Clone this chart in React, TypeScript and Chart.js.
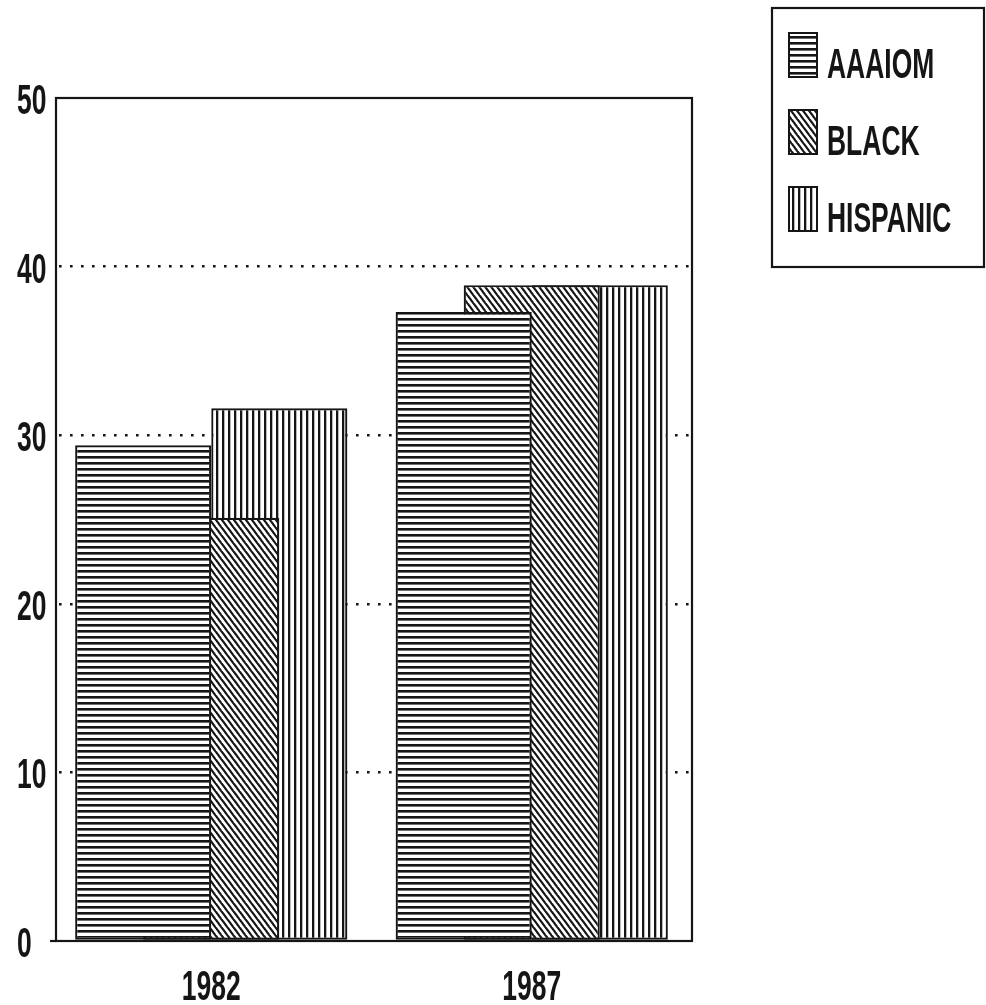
import React, { useEffect, useRef } from "react";
import { Chart, registerables } from "chart.js";

Chart.register(...registerables);

const categories = ["1982", "1987"];
const seriesNames = ["AAAIOM", "BLACK", "HISPANIC"];
const aaaiomValues = [29.4, 37.3];
const blackValues = [25.1, 38.9];
const hispanicValues = [31.6, 38.9];
const yTickValues = [0, 10, 20, 30, 40, 50];

const INK = "#151515";
const FONT = "bold 42px 'Liberation Sans', Arial, sans-serif";
const SQUEEZE = 0.63;
const FRAME_LEFT = 56;

function makePattern(kind: "h" | "d" | "v"): CanvasPattern | string {
  const c = document.createElement("canvas");
  const w = 6;
  const h = kind === "d" ? 8 : 6;
  c.width = w;
  c.height = h;
  const g = c.getContext("2d");
  if (!g) return "#fff";
  g.fillStyle = "#ffffff";
  g.fillRect(0, 0, w, h);
  g.fillStyle = INK;
  g.strokeStyle = INK;
  if (kind === "h") {
    g.fillRect(0, 0, w, 2.6);
  } else if (kind === "v") {
    g.fillRect(0, 0, 2.3, h);
  } else {
    g.lineWidth = 2.2;
    for (const dx of [-w, 0, w]) {
      g.beginPath();
      g.moveTo(dx - 3, -4);
      g.lineTo(dx + w + 3, h + 4);
      g.stroke();
    }
  }
  const p = g.createPattern(c, "repeat");
  return p || "#fff";
}

function squeezedText(
  ctx: CanvasRenderingContext2D,
  text: string,
  x: number,
  y: number,
  align: "left" | "center"
) {
  ctx.save();
  ctx.font = FONT;
  ctx.fillStyle = INK;
  ctx.textBaseline = "alphabetic";
  ctx.textAlign = align;
  ctx.translate(x, y);
  ctx.scale(SQUEEZE, 1);
  ctx.fillText(text, 0, 0);
  ctx.restore();
}

export default function App() {
  const ref = useRef<HTMLCanvasElement | null>(null);

  useEffect(() => {
    const canvas = ref.current;
    if (!canvas) return;
    const patterns = [makePattern("h"), makePattern("d"), makePattern("v")];
    const values = [aaaiomValues, blackValues, hispanicValues];

    const decor = {
      id: "decor",
      beforeDraw(chart: any) {
        const ctx = chart.ctx;
        ctx.save();
        ctx.fillStyle = "#ffffff";
        ctx.fillRect(0, 0, chart.width, chart.height);
        ctx.restore();
      },
      afterDraw(chart: any) {
        const ctx: CanvasRenderingContext2D = chart.ctx;
        const a = chart.chartArea;
        ctx.save();
        ctx.strokeStyle = INK;
        ctx.lineWidth = 2.2;
        ctx.strokeRect(FRAME_LEFT, a.top, a.right - FRAME_LEFT, a.bottom - a.top);
        ctx.beginPath();
        ctx.moveTo(50, a.bottom);
        ctx.lineTo(FRAME_LEFT, a.bottom);
        ctx.stroke();
        ctx.restore();

        const ys = chart.scales.y;
        yTickValues.forEach((v) => {
          squeezedText(ctx, String(v), 17, ys.getPixelForValue(v) + 16, "left");
        });
        const xs = chart.scales.x;
        categories.forEach((c, i) => {
          squeezedText(ctx, c, xs.getPixelForValue(i), 1000, "center");
        });

        // legend
        ctx.save();
        ctx.strokeStyle = INK;
        ctx.lineWidth = 2.2;
        ctx.strokeRect(772, 8, 212, 259);
        ctx.restore();
        chart.data.datasets.forEach((ds: any, i: number) => {
          const top = 33 + i * 77;
          ctx.save();
          ctx.fillStyle = ds.backgroundColor;
          ctx.fillRect(789, top, 28, 44);
          ctx.strokeStyle = INK;
          ctx.lineWidth = 2;
          ctx.strokeRect(789, top, 28, 44);
          ctx.restore();
          squeezedText(ctx, ds.label, 827, top + 45, "left");
        });
      },
    };

    const chart = new Chart(canvas, {
      type: "bar",
      data: {
        labels: categories,
        datasets: seriesNames.map((name, i) => ({
          label: name,
          data: values[i],
          backgroundColor: patterns[i] as any,
          borderColor: INK,
          borderWidth: 2.2,
          borderSkipped: false,
          categoryPercentage: 0.637,
          barPercentage: 2.0,
        })),
      },
      options: {
        responsive: false,
        animation: false,
        events: [],
        layout: { padding: { left: 51, top: 98, right: 294, bottom: 64 } },
        plugins: {
          legend: { display: false },
          tooltip: { enabled: false },
          title: { display: false },
        },
        scales: {
          x: {
            offset: true,
            grid: { display: false, drawTicks: false },
            border: { display: false },
            ticks: { display: false },
          },
          y: {
            min: 0,
            max: 50,
            ticks: { display: false, stepSize: 10 },
            grid: {
              drawTicks: false,
              lineWidth: 2.6,
              color: (c: any) =>
                c.tick && (c.tick.value === 0 || c.tick.value === 50)
                  ? "rgba(0,0,0,0)"
                  : INK,
            },
            border: { display: false, dash: [2.6, 8.4], dashOffset: 3 },
          },
        },
      },
      plugins: [decor],
    });
    return () => chart.destroy();
  }, []);

  return (
    <div style={{ position: "fixed", left: 0, top: 0, width: 986, height: 1005, background: "#fff" }}>
      <canvas ref={ref} width={986} height={1005} style={{ display: "block" }} />
    </div>
  );
}
